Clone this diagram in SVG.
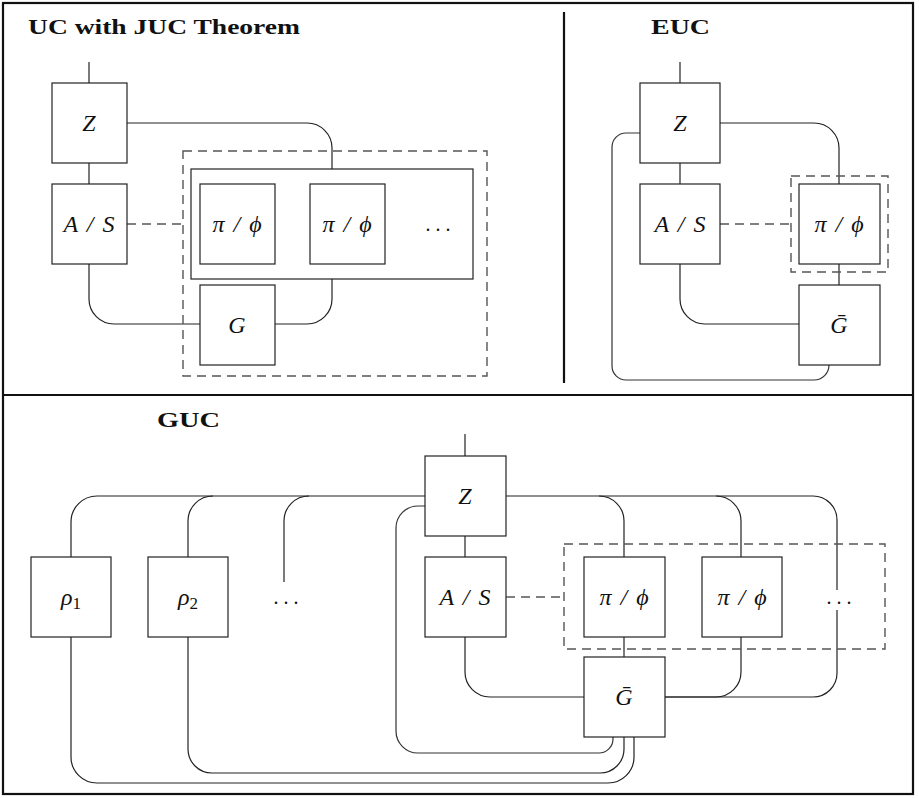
<svg xmlns="http://www.w3.org/2000/svg" width="919" height="798" viewBox="0 0 919 798">
<style>
.frame{fill:none;stroke:#111;stroke-width:2.2}
.box{fill:#fff;stroke:#222;stroke-width:1.2}
.wire{fill:none;stroke:#222;stroke-width:1.2}
.loop{fill:none;stroke:#333;stroke-width:1.2}
.dash{fill:none;stroke:#555;stroke-width:1.4;stroke-dasharray:9,6}
.title{font-family:"Liberation Serif","DejaVu Serif",serif;font-weight:bold;font-size:20px;fill:#111}
.lbl{font-family:"Liberation Serif","DejaVu Serif",serif;font-style:italic;font-size:24px;fill:#111;text-anchor:middle;word-spacing:3px}
.dots{font-family:"Liberation Serif","DejaVu Serif",serif;font-size:20px;fill:#111;text-anchor:middle}
</style>
<rect x="0" y="0" width="919" height="798" fill="#fff"/>
<g id="frames">
<rect class="frame" x="3" y="3" width="910" height="791"/>
<line class="frame" x1="3" y1="395" x2="913" y2="395" stroke-width="2.6"/>
<line class="frame" x1="564" y1="12" x2="564" y2="383"/>
</g>
<g id="titles">
<text class="title" x="28" y="34" textLength="272" lengthAdjust="spacingAndGlyphs">UC with JUC Theorem</text>
<text class="title" x="651" y="34" textLength="59" lengthAdjust="spacingAndGlyphs">EUC</text>
<text class="title" x="157" y="427" textLength="63" lengthAdjust="spacingAndGlyphs">GUC</text>
</g>
<g id="connectors">
<path class="wire" d="M89,62 V83"/>
<path class="wire" d="M89,163 V184"/>
<path class="wire" d="M127,123 H307 A25,25 0 0 1 332,148 V169"/>
<path class="wire" d="M89,264 V299 A25,25 0 0 0 114,324 H200"/>
<path class="wire" d="M275,324 H307 A25,25 0 0 0 332,299 V279"/>
<path class="dash" d="M127,224 H183"/>
<path class="wire" d="M680,62 V83"/>
<path class="wire" d="M680,163 V184"/>
<path class="wire" d="M720,123 H814 A25,25 0 0 1 839,148 V184"/>
<path class="wire" d="M839,264 V285"/>
<path class="wire" d="M680,264 V299 A25,25 0 0 0 705,324 H799"/>
<path class="loop" d="M640,133 H626 A14,14 0 0 0 612,147 V366 A14,14 0 0 0 626,380 H814 A15,15 0 0 0 829,365"/>
<path class="dash" d="M720,224 H791"/>
<path class="wire" d="M465,434 V456"/>
<path class="wire" d="M465,536 V557"/>
<path class="wire" d="M425,496 H97 A26,26 0 0 0 71,522 V557"/>
<path class="wire" d="M213,496 A25,25 0 0 0 188,521 V557"/>
<path class="wire" d="M309,496 A25,25 0 0 0 284,521 V582"/>
<path class="loop" d="M425,506 H418 A22,22 0 0 0 396,528 V731 A22,22 0 0 0 418,753 H599 A14,14 0 0 0 613,739 V737"/>
<path class="wire" d="M71,637 V757 A26,26 0 0 0 97,783 H608 A26,26 0 0 0 634,757 V737"/>
<path class="wire" d="M188,637 V749 A24,24 0 0 0 212,773 H600 A24,24 0 0 0 624,749 V737"/>
<path class="wire" d="M506,496 H813 A24,24 0 0 1 837,520 V673 A24,24 0 0 1 813,697 H665"/>
<path class="wire" d="M599,496 A25,25 0 0 1 624,521 V557"/>
<path class="wire" d="M716,496 A25,25 0 0 1 741,521 V557"/>
<path class="wire" d="M741,637 V672 A25,25 0 0 1 716,697 H665"/>
<path class="wire" d="M624,637 V657"/>
<path class="wire" d="M465,637 V672 A25,25 0 0 0 490,697 H584"/>
<path class="dash" d="M506,597 H564"/>
</g>
<g id="uc-dashed"><rect class="dash" x="183" y="151" width="304" height="225"/></g>
<g id="uc-container"><rect class="wire" x="191" y="169" width="282" height="110"/></g>
<g id="uc-Z"><rect class="box" x="52" y="83" width="75" height="80"/><text class="lbl" x="89" y="131">Z</text></g>
<g id="uc-AS"><rect class="box" x="52" y="184" width="75" height="80"/><text class="lbl" x="89" y="232">A / S</text></g>
<g id="uc-pi1"><rect class="box" x="200" y="184" width="75" height="80"/><text class="lbl" x="237" y="232">π / ϕ</text></g>
<g id="uc-pi2"><rect class="box" x="310" y="184" width="75" height="80"/><text class="lbl" x="347" y="232">π / ϕ</text></g>
<g id="uc-dots"><text class="dots" x="438" y="231">. . .</text></g>
<g id="uc-G"><rect class="box" x="200" y="285" width="75" height="80"/><text class="lbl" x="237" y="333">G</text></g>
<g id="euc-dashed"><rect class="dash" x="791" y="176" width="97" height="96"/></g>
<g id="euc-Z"><rect class="box" x="640" y="83" width="80" height="80"/><text class="lbl" x="680" y="131">Z</text></g>
<g id="euc-AS"><rect class="box" x="640" y="184" width="80" height="80"/><text class="lbl" x="680" y="232">A / S</text></g>
<g id="euc-pi"><rect class="box" x="799" y="184" width="81" height="80"/><text class="lbl" x="839" y="232">π / ϕ</text></g>
<g id="euc-Gbar"><rect class="box" x="799" y="285" width="81" height="80"/><text class="lbl" x="839" y="333">Ḡ</text></g>
<g id="guc-dashed"><rect class="dash" x="564" y="544" width="321" height="105"/></g>
<g id="guc-Z"><rect class="box" x="425" y="456" width="81" height="80"/><text class="lbl" x="465" y="504">Z</text></g>
<g id="guc-AS"><rect class="box" x="425" y="557" width="81" height="80"/><text class="lbl" x="465" y="605">A / S</text></g>
<g id="guc-rho1"><rect class="box" x="31" y="557" width="80" height="80"/><text class="lbl" x="71" y="605">ρ<tspan font-style="normal" font-size="17" dy="4">1</tspan></text></g>
<g id="guc-rho2"><rect class="box" x="148" y="557" width="80" height="80"/><text class="lbl" x="188" y="605">ρ<tspan font-style="normal" font-size="17" dy="4">2</tspan></text></g>
<g id="guc-dots1"><text class="dots" x="286" y="604">. . .</text></g>
<g id="guc-pi1"><rect class="box" x="584" y="557" width="81" height="80"/><text class="lbl" x="624" y="605">π / ϕ</text></g>
<g id="guc-pi2"><rect class="box" x="702" y="557" width="80" height="80"/><text class="lbl" x="742" y="605">π / ϕ</text></g>
<g id="guc-dots2"><rect x="824" y="590" width="30" height="20" fill="#fff"/><text class="dots" x="839" y="604">. . .</text></g>
<g id="guc-Gbar"><rect class="box" x="584" y="657" width="81" height="80"/><text class="lbl" x="624" y="705">Ḡ</text></g>
</svg>
